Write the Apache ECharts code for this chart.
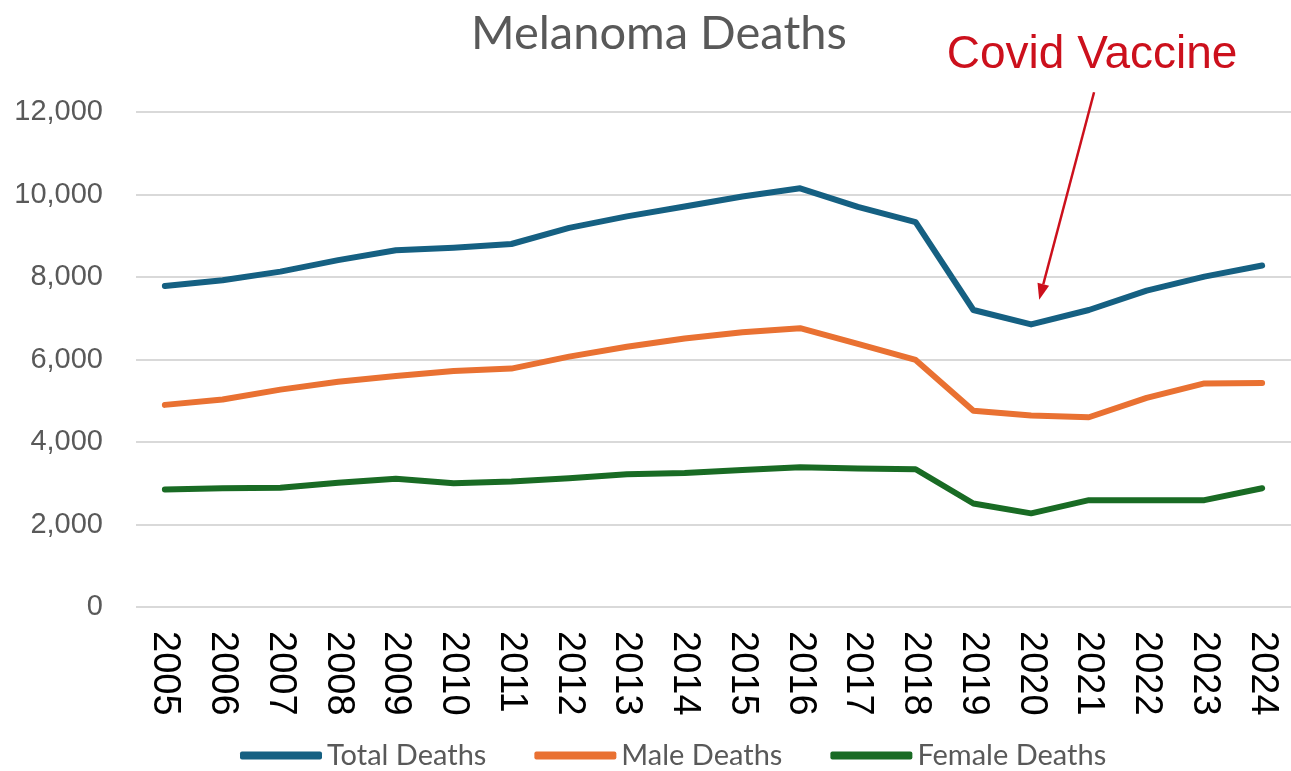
<!DOCTYPE html>
<html>
<head>
<meta charset="utf-8">
<script src="https://cdn.jsdelivr.net/npm/echarts@6/dist/echarts.min.js"></script>
<style>
  html, body { margin: 0; padding: 0; background: #fff; }
  #chart { width: 1291px; height: 771px; }
</style>
</head>
<body>
<div id="chart"></div>
<script>
// Yearly melanoma deaths, 2005–2024
const years = ['2005','2006','2007','2008','2009','2010','2011','2012','2013','2014',
               '2015','2016','2017','2018','2019','2020','2021','2022','2023','2024'];
const totalDeaths  = [7780, 7920, 8130, 8410, 8650, 8710, 8800, 9190, 9470, 9710,
                      9950, 10150, 9700, 9330, 7200, 6850, 7200, 7670, 8010, 8280];
const maleDeaths   = [4900, 5030, 5270, 5460, 5600, 5720, 5780, 6070, 6310, 6510,
                      6660, 6760, 6380, 5990, 4760, 4640, 4600, 5070, 5420, 5430];
const femaleDeaths = [2850, 2880, 2890, 3010, 3110, 3000, 3040, 3120, 3220, 3250,
                      3320, 3390, 3360, 3340, 2510, 2270, 2590, 2590, 2590, 2880];
const yTicks = { min: 0, max: 12000, interval: 2000 };

const seriesColors = ['#156082', '#E97132', '#196B24'];

const chart = echarts.init(document.getElementById('chart'));

function lineSeries(name, data, color) {
  return {
    name: name,
    type: 'line',
    data: data,
    showSymbol: false,
    symbol: 'none',
    lineStyle: { color: color, width: 6, cap: 'round', join: 'round' },
    itemStyle: { color: color },
    animation: false
  };
}

chart.setOption({
  animation: false,
  title: {
    text: 'Melanoma Deaths',
    left: 466,
    top: 5,
    textStyle: { fontFamily: 'Lato', fontSize: 47, fontWeight: 'normal', color: '#595959' }
  },
  legend: {
    top: 741,
    left: 240,
    padding: 0,
    itemWidth: 82,
    itemHeight: 8,
    itemGap: 48,
    icon: 'roundRect',
    textStyle: { fontFamily: 'Lato', fontSize: 29, color: '#595959' },
    data: ['Total Deaths', 'Male Deaths', 'Female Deaths']
  },
  grid: { left: 136, right: 0, top: 112, bottom: 164, containLabel: false },
  xAxis: {
    type: 'category',
    data: years,
    boundaryGap: true,
    axisLine: { show: false },
    axisTick: { show: false },
    axisLabel: {
      rotate: -90,
      margin: 24,
      fontFamily: 'Liberation Sans',
      fontSize: 38,
      color: '#000'
    }
  },
  yAxis: {
    type: 'value',
    min: yTicks.min,
    max: yTicks.max,
    interval: yTicks.interval,
    axisLine: { show: false },
    axisTick: { show: false },
    splitLine: { lineStyle: { color: '#d9d9d9', width: 2 } },
    axisLabel: {
      margin: 33,
      fontFamily: 'Liberation Sans',
      fontSize: 29,
      color: '#595959',
      formatter: v => v.toLocaleString('en-US')
    }
  },
  series: [
    lineSeries('Total Deaths', totalDeaths, seriesColors[0]),
    lineSeries('Male Deaths', maleDeaths, seriesColors[1]),
    lineSeries('Female Deaths', femaleDeaths, seriesColors[2])
  ]
});

// "Covid Vaccine" callout: arrow pointing down at the 2020 dip of total deaths
function px(idx, value) {
  const i0 = Math.floor(idx), f = idx - i0;
  const a = chart.convertToPixel({ gridIndex: 0 }, [i0, value]);
  const b = chart.convertToPixel({ gridIndex: 0 }, [i0 + 1, value]);
  return [a[0] + (b[0] - a[0]) * f, a[1]];
}
const covidIdx = years.indexOf('2020');
const tip = px(covidIdx + 0.14, totalDeaths[covidIdx] + 600);
const tail = px(covidIdx + 1.09, 12480);
const dx = tip[0] - tail[0], dy = tip[1] - tail[1];
const len = Math.sqrt(dx * dx + dy * dy);
const ux = dx / len, uy = dy / len;
const headLen = 16, headHalf = 6;
const base = [tip[0] - ux * headLen, tip[1] - uy * headLen];
const red = '#CC101C';

chart.setOption({
  graphic: [
    {
      type: 'line',
      shape: { x1: tail[0], y1: tail[1], x2: base[0], y2: base[1] },
      style: { stroke: red, lineWidth: 2.5 },
      silent: true
    },
    {
      type: 'polygon',
      shape: {
        points: [
          tip,
          [base[0] - uy * headHalf, base[1] + ux * headHalf],
          [base[0] + uy * headHalf, base[1] - ux * headHalf]
        ]
      },
      style: { fill: red },
      silent: true
    },
    {
      type: 'text',
      x: tail[0] - 2,
      y: tail[1] - 14,
      style: {
        text: 'Covid Vaccine',
        fontFamily: 'Liberation Sans',
        fontSize: 46,
        fill: red,
        align: 'center',
        verticalAlign: 'bottom'
      },
      silent: true
    }
  ]
});
</script>
</body>
</html>
